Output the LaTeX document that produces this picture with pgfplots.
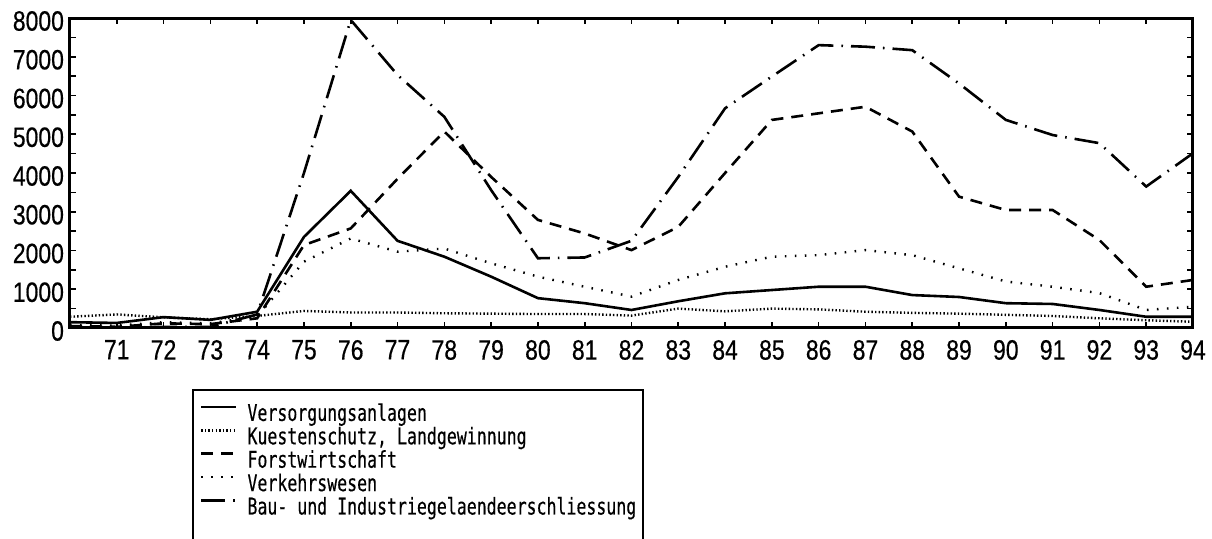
\documentclass[border=0pt]{standalone}
\usepackage{fontspec}
\setmainfont{Liberation Sans}[FakeStretch=0.82,FakeBold=0.5]
\newfontfamily\legfont{DejaVu Sans Mono}[FakeStretch=0.72,FakeBold=0.3]
\usepackage{pgfplots}
\pgfplotsset{compat=1.18}
\begin{document}
\begin{tikzpicture}
\begin{axis}[
  scale only axis,
  width=561.5pt, height=155pt,
  xmin=70, xmax=94, ymin=0, ymax=8000,
  xtick={71,...,94},
  ytick={0,1000,...,8000},
  minor ytick={500,1500,...,7500},
  tick align=inside,
  major tick length=3pt, minor tick length=3pt,
  every tick/.style={black, line width=0.8pt},
  axis line style={line width=1.5pt},
  /pgf/number format/assume math mode=true,
  /pgf/number format/set thousands separator={},
  tick label style={font=\fontsize{14}{16}\selectfont},
  xticklabel style={yshift=-2.5pt},
  yticklabel style={xshift=0.5pt, yshift=-1.5pt},
  legend cell align=left,
  legend style={at={(61pt,-30.5pt)}, anchor=north west, draw=black, line width=0.9pt,
    inner xsep=3.5pt, inner ysep=7pt,
    nodes={inner sep=0pt, text height=8.5pt, text depth=3.2pt, font=\legfont\fontsize{11.5}{11.7}\selectfont},
    column sep=5pt},
  legend image code/.code={\draw[#1] (0pt,4.3pt) -- (17.5pt,4.3pt);},
]
\addplot[black, line width=1.3pt] coordinates {
(70,150)(71,130)(72,280)(73,210)(74,420)(75,2350)(76,3540)(77,2250)(78,1840)(79,1325)
(80,770)(81,640)(82,465)(83,690)(84,895)(85,980)(86,1065)(87,1065)(88,850)(89,800)
(90,640)(91,620)(92,465)(93,290)(94,290)};
\addlegendentry{Versorgungsanlagen}
\addplot[black, line width=1.2pt, dash pattern=on 0.7pt off 1.1pt] coordinates {
(70,290)(71,350)(72,275)(73,225)(74,310)(75,440)(76,400)(77,400)(78,380)(79,370)
(80,360)(81,360)(82,320)(83,500)(84,430)(85,500)(86,480)(87,420)(88,390)(89,370)
(90,340)(91,310)(92,250)(93,200)(94,160)};
\addlegendentry{Kuestenschutz, Landgewinnung}
\addplot[black, line width=1.3pt, dash pattern=on 6pt off 4pt] coordinates {
(70,50)(71,30)(72,120)(73,100)(74,250)(75,2140)(76,2570)(77,3850)(78,5070)(79,3900)
(80,2790)(81,2440)(82,2010)(83,2610)(84,4000)(85,5370)(86,5540)(87,5710)(88,5070)(89,3390)
(90,3045)(91,3045)(92,2270)(93,1065)(94,1240)};
\addlegendentry{Forstwirtschaft}
\addplot[black, line width=1.2pt, dash pattern=on 0.8pt off 4.2pt] coordinates {
(70,80)(71,60)(72,150)(73,120)(74,300)(75,1710)(76,2310)(77,1970)(78,2050)(79,1670)
(80,1325)(81,1065)(82,810)(83,1240)(84,1580)(85,1840)(86,1880)(87,2010)(88,1880)(89,1540)
(90,1200)(91,1065)(92,900)(93,465)(94,550)};
\addlegendentry{Verkehrswesen}
\addplot[black, line width=1.3pt, dash pattern=on 12pt off 4pt on 0.8pt off 4pt] coordinates {
(70,0)(71,0)(72,30)(73,30)(74,350)(75,4000)(76,7950)(77,6530)(78,5450)(79,3560)
(80,1800)(81,1820)(82,2250)(83,3900)(84,5670)(85,6490)(86,7300)(87,7260)(88,7170)(89,6310)
(90,5370)(91,4980)(92,4770)(93,3650)(94,4510)};
\addlegendentry{Bau- und Industriegelaendeerschliessung}
\addlegendimage{empty legend}
\addlegendentry{}
\end{axis}
\pgfresetboundingbox
\path[use as bounding box] ([shift={(-35pt,-105.5pt)}]current axis.south west) rectangle ([shift={(571pt,164pt)}]current axis.south west);
\end{tikzpicture}
\end{document}
